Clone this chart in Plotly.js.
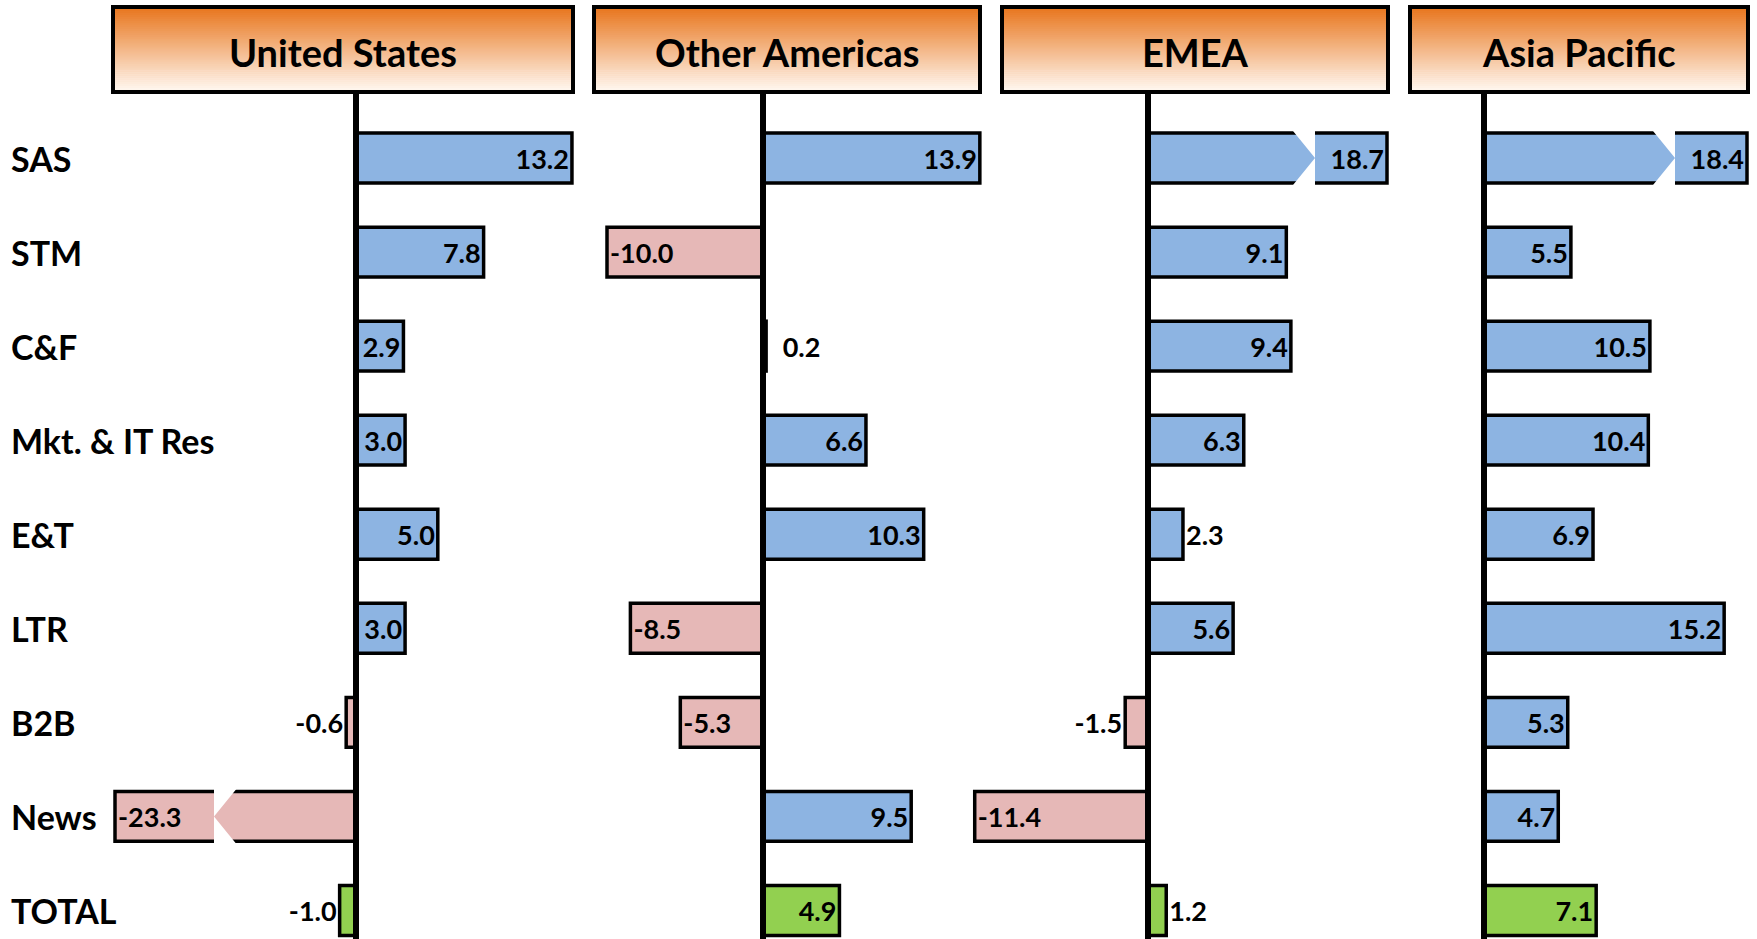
<!DOCTYPE html>
<html><head><meta charset="utf-8">
<script src="https://cdn.plot.ly/plotly-3.0.1.min.js"></script>
<style>html,body{margin:0;padding:0;background:#fff;overflow:hidden} #chart{width:1757px;height:939px;}</style>
</head><body><div id="chart"></div>
<script>
// ---- data ----
const categories = ['SAS', 'STM', 'C&F', 'Mkt. & IT Res', 'E&T', 'LTR', 'B2B', 'News', 'TOTAL'];
const regions = ['United States', 'Other Americas', 'EMEA', 'Asia Pacific'];
const usValues = [13.2, 7.8, 2.9, 3.0, 5.0, 3.0, -0.6, -23.3, -1.0];
const otherAmericasValues = [13.9, -10.0, 0.2, 6.6, 10.3, -8.5, -5.3, 9.5, 4.9];
const emeaValues = [18.7, 9.1, 9.4, 6.3, 2.3, 5.6, -1.5, -11.4, 1.2];
const asiaPacificValues = [18.4, 5.5, 10.5, 10.4, 6.9, 15.2, 5.3, 4.7, 7.1];

// ---- layout settings (pixels) ----
const W = 1757, H = 939;
const panels = [
  {values: usValues,            L: 113,  Z: 356,  R: 575,  k: 16.36, hdr: [113, 573]},
  {values: otherAmericasValues, L: 592,  Z: 763,  R: 983,  k: 15.6,  hdr: [594, 980]},
  {values: emeaValues,          L: 960,  Z: 1148, R: 1390, k: 15.2,  hdr: [1002, 1388]},
  {values: asiaPacificValues,   L: 1408, Z: 1484, R: 1750, k: 15.8,  hdr: [1410, 1748]}
];
const hdrTop = 7, hdrBot = 92;
const rowFirst = 158, rowStep = 94.06;
const yTopPx = 92;
const yRange = [(categories.length - 1) + (H - (rowFirst + (categories.length - 1) * rowStep)) / rowStep,
                -(rowFirst - yTopPx) / rowStep];
const yDomTop = 1 - yTopPx / H;

const BLUE = '#8DB4E2', PINK = '#E6B8B7', GREEN = '#92D050';
const FONT = 'Lato, "Open Sans", sans-serif';

const traces = [];
const shapes = [];
const annotations = [];
const layout = {
  width: W, height: H,
  margin: {l: 0, r: 0, t: 0, b: 0, pad: 0},
  paper_bgcolor: '#ffffff', plot_bgcolor: 'rgba(0,0,0,0)',
  showlegend: false,
  yaxis: {domain: [0, yDomTop], range: yRange, visible: false, fixedrange: true, anchor: 'x'},
  shapes: shapes, annotations: annotations
};

panels.forEach((p, idx) => {
  const n = idx === 0 ? '' : String(idx + 1);
  const rmin = (p.L - p.Z) / p.k, rmax = (p.R - p.Z) / p.k;
  const vmin = rmin + 2 / p.k, vmax = rmax - 3 / p.k;
  layout['xaxis' + n] = {domain: [p.L / W, p.R / W], range: [rmin, rmax], visible: false,
                         fixedrange: true, anchor: 'y', zeroline: false, showgrid: false};
  const shown = p.values.map(v => Math.max(vmin, Math.min(vmax, v)));
  const colors = p.values.map((v, i) => i === categories.length - 1 ? GREEN : (v < 0 ? PINK : BLUE));
  const labels = p.values.map(v => v.toFixed(1));
  const tpos = p.values.map(v => Math.abs(v) < 2.5 ? 'outside' : 'inside');
  // tiny positive values: label a bit away from the axis line
  const texts = p.values.map((v, i) => (v >= 0 && Math.abs(v) < 0.5 ? '\u2002' : '') + '<b>' + labels[i] + '</b>');
  const tf = {family: FONT, size: 27, color: '#000000', weight: 700};
  traces.push({
    type: 'bar', orientation: 'h',
    x: shown, y: categories.map((c, i) => i),
    xaxis: 'x' + n, yaxis: 'y',
    width: 0.53,
    marker: {color: colors, line: {color: '#000000', width: 3.5}},
    text: texts, textposition: tpos, insidetextanchor: 'end', textangle: 0,
    constraintext: 'none', cliponaxis: false,
    textfont: tf, outsidetextfont: tf, insidetextfont: tf,
    hoverinfo: 'skip'
  });

  // broken-bar notch for values beyond the panel's range
  p.values.forEach((v, i) => {
    if (v > vmax || v < vmin) {
      const boxPx = 27 * labels[i].length - 36;
      const dir = v > vmax ? 1 : -1;
      const b = shown[i] - dir * boxPx / p.k;
      const a = b - dir * 23 / p.k;
      const hh = 0.30;
      shapes.push({type: 'path', xref: 'x' + n, yref: 'y', layer: 'above',
        path: `M ${a},${i - hh} L ${b},${i - hh} L ${b},${i + hh} L ${a},${i + hh} L ${b},${i} Z`,
        fillcolor: '#ffffff', line: {width: 0}});
    }
  });

  // vertical axis line at zero
  shapes.push({type: 'line', xref: 'x' + n, yref: 'paper', x0: 0, x1: 0, y0: 0, y1: yDomTop,
               line: {color: '#000000', width: 6}, layer: 'above'});

  // header box with vertical gradient
  const bands = 43;
  const c0 = [232, 118, 30], c1 = [255, 248, 241];
  for (let j = 0; j < bands; j++) {
    const t = j / (bands - 1);
    const c = c0.map((cv, m) => Math.round(cv + (c1[m] - cv) * t));
    const y0 = hdrTop + (hdrBot - hdrTop) * j / bands;
    const y1 = hdrTop + (hdrBot - hdrTop) * (j + 1) / bands + 0.6;
    shapes.push({type: 'rect', xref: 'paper', yref: 'paper', layer: 'below',
      x0: p.hdr[0] / W, x1: p.hdr[1] / W, y0: 1 - y1 / H, y1: 1 - y0 / H,
      fillcolor: `rgb(${c[0]},${c[1]},${c[2]})`, line: {width: 0}});
  }
  shapes.push({type: 'rect', xref: 'paper', yref: 'paper', layer: 'above',
    x0: p.hdr[0] / W, x1: p.hdr[1] / W, y0: 1 - hdrBot / H, y1: 1 - hdrTop / H,
    fillcolor: 'rgba(0,0,0,0)', line: {color: '#000000', width: 4}});
  annotations.push({xref: 'paper', yref: 'paper', x: (p.hdr[0] + p.hdr[1]) / 2 / W, y: 1 - 52 / H,
    xanchor: 'center', yanchor: 'middle', showarrow: false, text: '<b>' + regions[idx] + '</b>',
    font: {family: FONT, size: 38, color: '#000000'}});
});

categories.forEach((c, i) => {
  annotations.push({xref: 'paper', yref: 'y', x: 9 / W, y: i, xanchor: 'left', yanchor: 'middle',
    showarrow: false, text: '<b>' + c.replace('&', '&amp;') + '</b>',
    font: {family: FONT, size: 34, color: '#000000'}});
});

Plotly.newPlot('chart', traces, layout, {staticPlot: true, displayModeBar: false});
</script>
</body></html>
